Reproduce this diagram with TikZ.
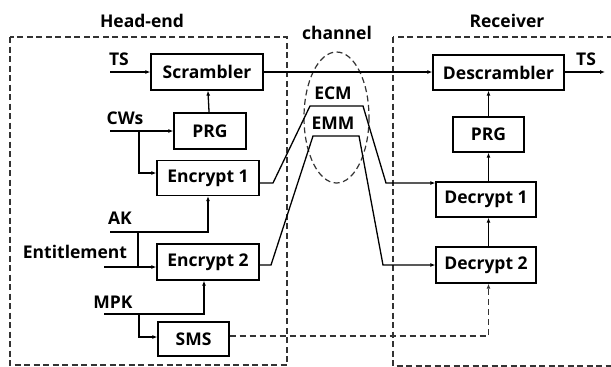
\documentclass[tikz,border=0pt]{standalone}
\usepackage{fontspec}
\setmainfont{Open Sans}
\usetikzlibrary{arrows.meta,calc}
\begin{document}
\begin{tikzpicture}[x=1pt,y=-1pt,
  font=\bfseries\fontsize{17.5}{19}\selectfont,
  blk/.style={draw, line width=1.3pt, inner sep=0pt, anchor=center},
  lbl/.style={inner sep=0pt, anchor=center},
  conn/.style={line width=1.3pt},
  arr/.style={line width=1.3pt, -{Latex[length=5pt,width=4pt]}},
  dashbox/.style={line width=1.2pt, draw=black!80, dash pattern=on 6pt off 3.5pt},
  dashconn/.style={line width=1.2pt, draw=black!80, dash pattern=on 6pt off 4pt}]
\useasboundingbox (0,0) rectangle (611,367);
% containers
\draw[dashbox] (10,37) rectangle (287,365);
\draw[dashbox] (393,37) rectangle (625,366);
\node[lbl] (headend) at (142,21) {Head-end};
\node[lbl] (receiver) at (507,21) {Receiver};
\node[lbl] (channel) at (337,33) {channel};
% head-end blocks
\node[blk, minimum width=112pt, minimum height=36pt] (scr) at (207,72) {Scrambler};
\node[blk, minimum width=72pt, minimum height=36pt] (prg1) at (210,131) {PRG};
\node[blk, minimum width=102pt, minimum height=35pt] (enc1) at (208,178) {Encrypt 1};
\node[blk, minimum width=102pt, minimum height=36pt] (enc2) at (208,262) {Encrypt 2};
\node[blk, minimum width=71pt, minimum height=34pt] (sms) at (193.5,339) {SMS};
% receiver blocks
\node[blk, minimum width=131pt, minimum height=35pt] (des) at (498.5,72.5) {Descrambler};
\node[blk, minimum width=71pt, minimum height=35pt] (prg2) at (488.5,134.5) {PRG};
\node[blk, minimum width=100pt, minimum height=35pt] (dec1) at (486,199.5) {Decrypt 1};
\node[blk, minimum width=100pt, minimum height=36pt] (dec2) at (486,265) {Decrypt 2};
% input labels
\node[lbl] (tslbl) at (119,59) {TS};
\node[lbl] (cwlbl) at (125,118) {CWs};
\node[lbl] (aklbl) at (120,218) {AK};
\node[lbl] (entlbl) at (75,252) {Entitlement};
\node[lbl] (mpklbl) at (113,302) {MPK};
\node[lbl] (tsoutlbl) at (586,59) {TS};
% coordinates
\coordinate (tsin) at (110,72);
\coordinate (cwin) at (110,131);
\coordinate (cwb) at (139,131);
\coordinate (akin) at (110,232);
\coordinate (akb) at (138,232);
\coordinate (entin) at (104,267);
\coordinate (mpkin) at (104,314);
\coordinate (mpkb) at (139,314);
\coordinate (tsout) at (605,72);
\coordinate (ecm1) at (273,183);
\coordinate (ecm2) at (310,106);
\coordinate (ecm3) at (363,106);
\coordinate (ecm4) at (386,183);
\coordinate (emm1) at (271,265);
\coordinate (emm2) at (313,136);
\coordinate (emm3) at (359,136);
\coordinate (emm4) at (383,265);
% channel ellipse and labels
\draw[dashbox] (336.5,117.5) ellipse [x radius=32.5, y radius=65.5];
\node[lbl] (ecm) at (333,93) {ECM};
\node[lbl] (emm) at (333,123) {EMM};
% head-end connectors
\draw[arr] (tsin) -- (scr);
\draw[arr] (prg1) -- (scr);
\draw[arr] (cwin) -- (prg1);
\draw[arr] (cwb) |- ([yshift=5pt]enc1.west);
\draw[arr] (akin) -| (enc1.south);
\draw[conn] (akb) -- (akb |- entin);
\draw[arr] (entin) -- (entin -| enc2.west);
\draw[arr] (mpkin) -| ([xshift=-4pt]enc2.south);
\draw[arr] (mpkb) |- ([yshift=2pt]sms.west);
% channel connectors
\draw[arr] (scr.east) -- (scr.east -| des.west);
\draw[arr] ([yshift=-5pt]enc1.east) -- (ecm1) -- (ecm2) -- (ecm3) -- (ecm4) -- (ecm4 -| dec1.west);
\draw[arr] ([yshift=-3pt]enc2.east) -- (emm1) -- (emm2) -- (emm3) -- (emm4) -- (emm4 -| dec2.west);
\draw[dashconn, -{Latex[length=5pt,width=4pt]}] ([yshift=3pt]sms.east) -| (prg2.south |- dec2.south);
% receiver connectors
\draw[arr] (des.east |- tsout) -- (tsout);
\draw[arr] (prg2) -- (prg2 |- des.south);
\draw[arr] (prg2.south |- dec1.north) -- (prg2.south);
\draw[arr] (prg2.south |- dec2.north) -- (prg2.south |- dec1.south);
\end{tikzpicture}
\end{document}
